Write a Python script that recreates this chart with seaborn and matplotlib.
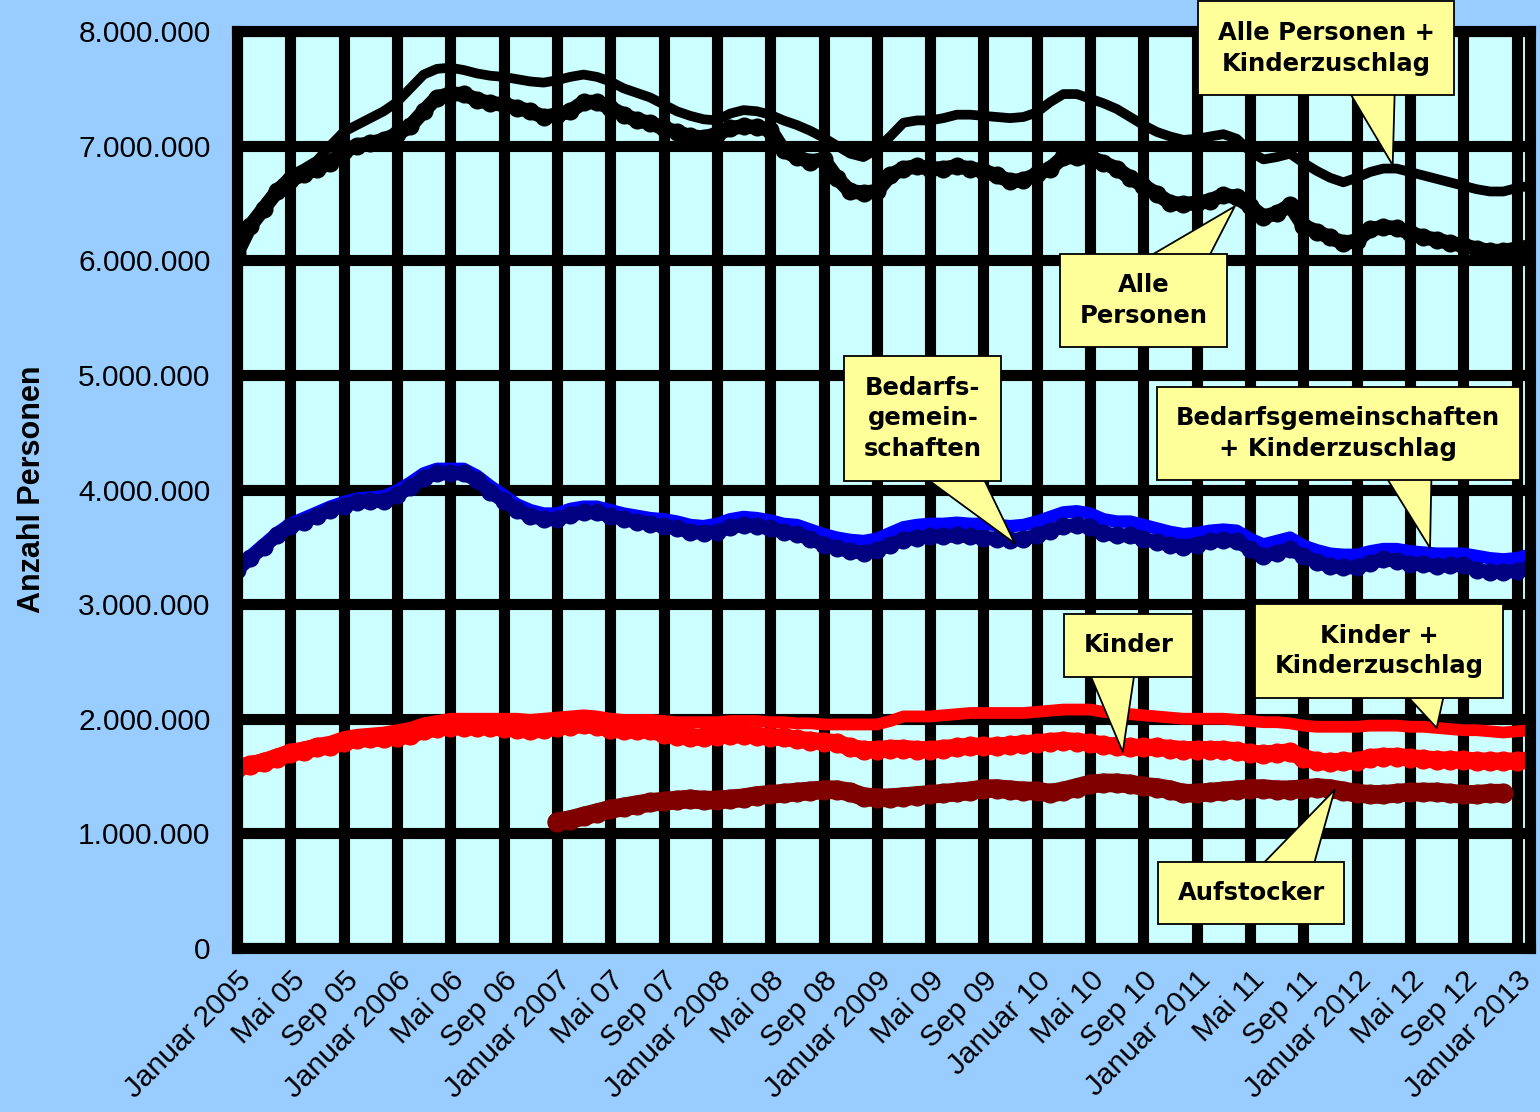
import numpy as np
import matplotlib
matplotlib.use("Agg")
import matplotlib.pyplot as plt
import seaborn as sns
from matplotlib.ticker import FuncFormatter

# Monatswerte Januar 2005 bis Februar 2013, in Millionen Personen
alle_kiz = [6.10, 6.33, 6.48, 6.63, 6.74, 6.80, 6.87, 7.00, 7.12, 7.18, 7.24, 7.30,
            7.38, 7.50, 7.62, 7.67, 7.68, 7.66, 7.63, 7.61, 7.60, 7.58, 7.56, 7.55,
            7.57, 7.60, 7.62, 7.60, 7.56, 7.50, 7.46, 7.42, 7.36, 7.30, 7.26, 7.23,
            7.22, 7.28, 7.31, 7.30, 7.27, 7.22, 7.18, 7.13, 7.07, 7.00, 6.93, 6.90,
            6.97, 7.08, 7.20, 7.22, 7.22, 7.24, 7.27, 7.27, 7.26, 7.25, 7.24, 7.25,
            7.29, 7.38, 7.45, 7.45, 7.41, 7.37, 7.32, 7.25, 7.18, 7.12, 7.08, 7.05,
            7.06, 7.08, 7.10, 7.06, 6.95, 6.88, 6.90, 6.93, 6.85, 6.78, 6.72, 6.68,
            6.72, 6.77, 6.80, 6.80, 6.77, 6.74, 6.71, 6.68, 6.65, 6.62, 6.60, 6.60,
            6.63, 6.65]
alle = [6.06, 6.30, 6.45, 6.60, 6.70, 6.75, 6.80, 6.85, 6.95, 7.00, 7.02, 7.05,
        7.10, 7.17, 7.30, 7.42, 7.45, 7.45, 7.40, 7.37, 7.36, 7.33, 7.30, 7.25,
        7.27, 7.30, 7.38, 7.38, 7.33, 7.27, 7.22, 7.20, 7.15, 7.12, 7.08, 7.07,
        7.10, 7.15, 7.17, 7.16, 7.14, 6.96, 6.90, 6.86, 6.88, 6.72, 6.60, 6.59,
        6.60, 6.74, 6.80, 6.82, 6.80, 6.80, 6.82, 6.80, 6.78, 6.74, 6.69, 6.70,
        6.75, 6.80, 6.90, 6.90, 6.90, 6.85, 6.80, 6.72, 6.65, 6.58, 6.50, 6.49,
        6.50, 6.52, 6.57, 6.55, 6.47, 6.38, 6.41, 6.48, 6.30, 6.25, 6.20, 6.15,
        6.17, 6.27, 6.29, 6.28, 6.24, 6.20, 6.18, 6.15, 6.13, 6.10, 6.08, 6.08,
        6.10, 6.12]
bg_kiz = [3.32, 3.42, 3.52, 3.62, 3.70, 3.75, 3.80, 3.85, 3.89, 3.92, 3.93, 3.94,
          3.99, 4.06, 4.14, 4.18, 4.18, 4.18, 4.12, 4.03, 3.95, 3.87, 3.82, 3.79,
          3.79, 3.83, 3.85, 3.85, 3.82, 3.79, 3.77, 3.75, 3.74, 3.72, 3.69, 3.68,
          3.70, 3.74, 3.76, 3.75, 3.73, 3.70, 3.69, 3.65, 3.61, 3.58, 3.56, 3.55,
          3.57, 3.62, 3.67, 3.69, 3.70, 3.70, 3.71, 3.70, 3.70, 3.69, 3.68, 3.69,
          3.72, 3.76, 3.80, 3.81, 3.79, 3.74, 3.72, 3.72, 3.69, 3.66, 3.63, 3.61,
          3.62, 3.64, 3.65, 3.64, 3.57, 3.52, 3.55, 3.58, 3.51, 3.47, 3.44, 3.43,
          3.43, 3.46, 3.48, 3.48, 3.46, 3.45, 3.44, 3.44, 3.44, 3.42, 3.40, 3.39,
          3.40, 3.43]
bg = [3.30, 3.40, 3.50, 3.60, 3.68, 3.72, 3.77, 3.82, 3.86, 3.89, 3.90, 3.90,
      3.95, 4.02, 4.10, 4.14, 4.14, 4.14, 4.08, 3.98, 3.90, 3.82, 3.77, 3.74,
      3.74, 3.78, 3.80, 3.80, 3.77, 3.74, 3.72, 3.70, 3.68, 3.66, 3.63, 3.62,
      3.63, 3.67, 3.69, 3.68, 3.66, 3.63, 3.61, 3.57, 3.52, 3.49, 3.46, 3.45,
      3.47, 3.52, 3.56, 3.58, 3.59, 3.59, 3.60, 3.59, 3.58, 3.57, 3.56, 3.57,
      3.60, 3.64, 3.68, 3.69, 3.67, 3.62, 3.60, 3.60, 3.57, 3.54, 3.52, 3.50,
      3.52, 3.55, 3.56, 3.55, 3.48, 3.42, 3.45, 3.48, 3.42, 3.37, 3.33, 3.32,
      3.32, 3.36, 3.39, 3.38, 3.35, 3.35, 3.33, 3.34, 3.34, 3.30, 3.28, 3.28,
      3.29, 3.32]
kinder_kiz = [1.59, 1.62, 1.65, 1.69, 1.73, 1.75, 1.78, 1.80, 1.84, 1.86, 1.87, 1.88,
              1.90, 1.92, 1.96, 1.98, 2.00, 2.00, 2.00, 2.00, 2.00, 2.00, 1.99, 2.00,
              2.01, 2.02, 2.03, 2.02, 2.00, 1.99, 1.99, 1.99, 1.98, 1.97, 1.97, 1.97,
              1.97, 1.98, 1.98, 1.98, 1.97, 1.97, 1.96, 1.96, 1.95, 1.95, 1.95, 1.95,
              1.95, 1.98, 2.02, 2.02, 2.02, 2.03, 2.04, 2.05, 2.05, 2.05, 2.05, 2.05,
              2.06, 2.07, 2.08, 2.08, 2.08, 2.06, 2.05, 2.04, 2.03, 2.02, 2.01, 2.00,
              2.00, 2.00, 2.00, 1.99, 1.98, 1.97, 1.97, 1.96, 1.94, 1.93, 1.93, 1.93,
              1.93, 1.94, 1.94, 1.94, 1.93, 1.93, 1.92, 1.91, 1.90, 1.90, 1.89, 1.88,
              1.89, 1.90]
kinder = [1.57, 1.60, 1.62, 1.66, 1.70, 1.72, 1.75, 1.76, 1.80, 1.82, 1.83, 1.83,
          1.84, 1.86, 1.90, 1.92, 1.93, 1.93, 1.93, 1.93, 1.92, 1.91, 1.90, 1.91,
          1.93, 1.94, 1.95, 1.94, 1.91, 1.90, 1.90, 1.90, 1.87, 1.85, 1.84, 1.84,
          1.85, 1.86, 1.86, 1.85, 1.84, 1.84, 1.82, 1.81, 1.80, 1.79, 1.75, 1.73,
          1.73, 1.74, 1.74, 1.73, 1.73, 1.74, 1.75, 1.76, 1.76, 1.76, 1.77, 1.78,
          1.79, 1.80, 1.81, 1.80, 1.79, 1.77, 1.76, 1.75, 1.75, 1.75, 1.74, 1.73,
          1.73, 1.73, 1.73, 1.72, 1.70, 1.69, 1.70, 1.71, 1.66, 1.63, 1.62, 1.63,
          1.63, 1.66, 1.67, 1.67, 1.66, 1.65, 1.64, 1.64, 1.64, 1.63, 1.63, 1.63,
          1.63, 1.64]
# Aufstocker erst ab Januar 2007 (Monat 24) bis Dezember 2012
aufstocker_start = 24
aufstocker = [1.10, 1.12, 1.15, 1.18, 1.21, 1.23, 1.25, 1.27, 1.28, 1.29, 1.30, 1.29,
              1.29, 1.30, 1.31, 1.33, 1.34, 1.35, 1.36, 1.37, 1.38, 1.38, 1.36, 1.32,
              1.31, 1.31, 1.32, 1.33, 1.34, 1.35, 1.36, 1.37, 1.39, 1.39, 1.38, 1.37,
              1.37, 1.35, 1.37, 1.40, 1.43, 1.44, 1.44, 1.43, 1.41, 1.40, 1.38, 1.35,
              1.35, 1.36, 1.37, 1.38, 1.39, 1.39, 1.38, 1.38, 1.39, 1.40, 1.39, 1.37,
              1.35, 1.34, 1.34, 1.35, 1.36, 1.36, 1.36, 1.35, 1.34, 1.34, 1.35, 1.35]

tick_labels = ["Januar 2005", "Mai 05", "Sep 05", "Januar 2006", "Mai 06", "Sep 06",
               "Januar 2007", "Mai 07", "Sep 07", "Januar 2008", "Mai 08", "Sep 08",
               "Januar 2009", "Mai 09", "Sep 09", "Januar 10", "Mai 10", "Sep 10",
               "Januar 2011", "Mai 11", "Sep 11", "Januar 2012", "Mai 12", "Sep 12",
               "Januar 2013"]

months = np.arange(len(alle))
auf_months = np.arange(aufstocker_start, aufstocker_start + len(aufstocker))
mio = 1e6

sns.set_theme(style="white")
plt.rcParams['font.family'] = ['Liberation Sans', 'DejaVu Sans']

fig = plt.figure(figsize=(15.4, 11.12), dpi=100, facecolor='#99CCFF')
ax = fig.add_axes([0.1539, 0.1475, 0.8396, 0.8246])
ax.set_facecolor('#CCFFFF')

round_kw = dict(solid_capstyle='round', solid_joinstyle='round')

# Linien (Reihenfolge wie im Original)
sns.lineplot(x=months, y=np.array(alle_kiz) * mio, ax=ax, color='black', lw=7, **round_kw)
sns.lineplot(x=months, y=np.array(alle) * mio, ax=ax, color='black', lw=10.5,
             marker='o', markersize=13, markeredgewidth=0, **round_kw)
sns.lineplot(x=months, y=np.array(bg_kiz) * mio, ax=ax, color='#0000FF', lw=9, **round_kw)
sns.lineplot(x=months, y=np.array(bg) * mio, ax=ax, color='#000080', lw=10,
             marker='o', markersize=13, markeredgewidth=0, **round_kw)
sns.lineplot(x=months, y=np.array(kinder_kiz) * mio, ax=ax, color='#FF0000', lw=8.5, **round_kw)
sns.lineplot(x=months, y=np.array(kinder) * mio, ax=ax, color='#FF0000', lw=12.5,
             marker='o', markersize=14.5, markeredgewidth=0, **round_kw)
sns.lineplot(x=auf_months, y=np.array(aufstocker) * mio, ax=ax, color='#800000', lw=13.5,
             marker='o', markersize=14.5, markeredgewidth=0, **round_kw)

ax.set_xlim(0, len(alle) - 1)
ax.set_ylim(0, 8 * mio)
ax.set_xticks(np.arange(0, len(alle) - 1, 4))
ax.set_xticklabels(tick_labels, rotation=45, ha='right', rotation_mode='anchor')
ax.set_yticks(np.arange(0, 8 * mio + 1, mio))
ax.yaxis.set_major_formatter(FuncFormatter(lambda v, p: f"{v:,.0f}".replace(",", ".")))

ax.grid(True, color='black', lw=8)
ax.set_axisbelow(True)
for s in ax.spines.values():
    s.set_color('black')
    s.set_linewidth(8)
ax.tick_params(axis='both', which='major', length=9, width=7, color='black',
               labelsize=21.5, labelcolor='black', direction='out')
ax.tick_params(axis='y', pad=10)
ax.tick_params(axis='x', pad=4)

ax.set_xlabel('')
ax.set_ylabel('Anzahl Personen', fontsize=22, fontweight='bold', color='black')
ax.yaxis.set_label_coords(-0.147, 0.5)


def callout(text, xy, xytext, relpos):
    ax.annotate(text, xy=xy, xytext=xytext, textcoords='data',
                ha='center', va='center', fontsize=17.5, fontweight='bold',
                family='DejaVu Sans', linespacing=1.35, color='black',
                bbox=dict(boxstyle='square,pad=0.8', fc='#FFFF99', ec='black', lw=1.3),
                arrowprops=dict(arrowstyle='wedge,tail_width=2.2', fc='#FFFF99',
                                ec='black', lw=1.3, relpos=relpos,
                                shrinkA=0, shrinkB=0, patchA=None),
                annotation_clip=False, zorder=10)


callout("Alle Personen +\nKinderzuschlag", (86.7, 6.83 * mio), (81.7, 7.85 * mio), (0.7, 0.0))
callout("Alle\nPersonen", (74.85, 6.47 * mio), (68.0, 5.65 * mio), (0.72, 1.0))
callout("Bedarfs-\ngemein-\nschaften", (58.35, 3.53 * mio), (51.45, 4.62 * mio), (0.7, 0.0))
callout("Bedarfsgemeinschaften\n+ Kinderzuschlag", (89.5, 3.49 * mio), (82.6, 4.49 * mio), (0.71, 0.0))
callout("Kinder", (66.45, 1.71 * mio), (66.9, 2.64 * mio), (0.3, 0.0))
callout("Kinder +\nKinderzuschlag", (90.0, 1.92 * mio), (85.7, 2.59 * mio), (0.71, 0.0))
callout("Aufstocker", (82.35, 1.38 * mio), (76.1, 0.48 * mio), (0.71, 1.0))

fig.savefig('out.png', dpi=100, facecolor=fig.get_facecolor())
